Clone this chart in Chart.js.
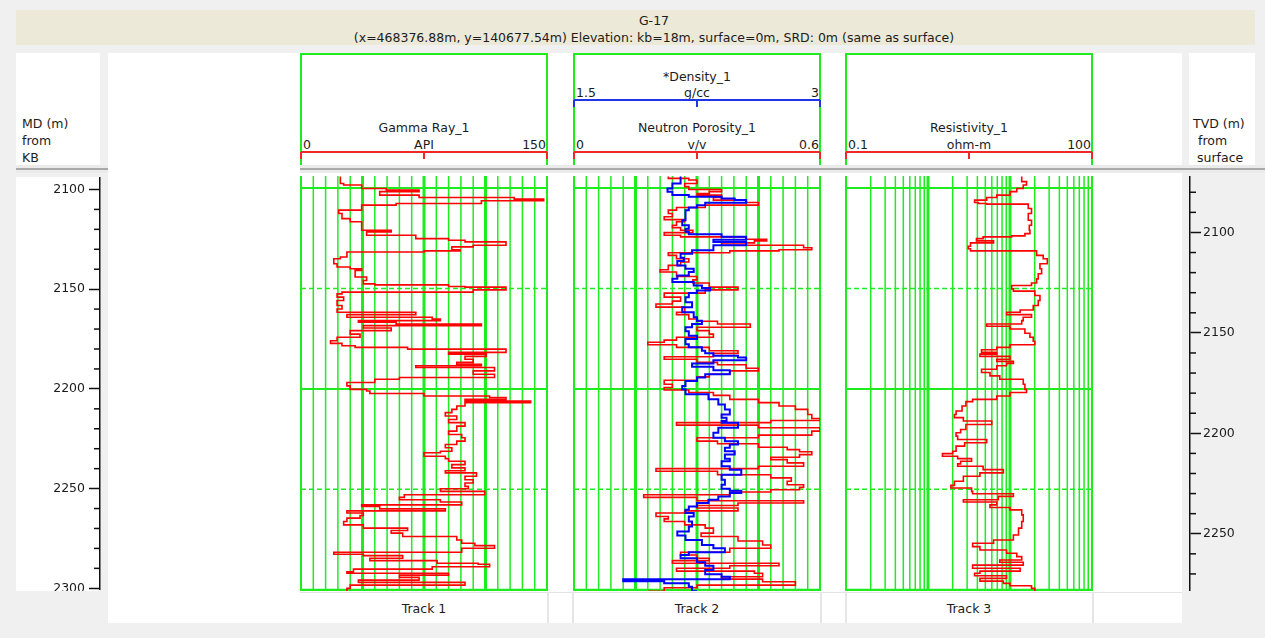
<!DOCTYPE html>
<html>
<head>
<meta charset="utf-8">
<title>G-17 well log</title>
<script src="https://cdn.jsdelivr.net/npm/chart.js@4.4.1/dist/chart.umd.min.js"></script>
<style>
  html, body { margin:0; padding:0; }
  body { width:1265px; height:638px; background:#f0f0f0; position:relative; overflow:hidden;
         font-family:"DejaVu Sans", sans-serif; font-size:12.5px; color:#1c1c1c; }
  .abs { position:absolute; }
  .txt { position:absolute; white-space:nowrap; line-height:17px; height:17px; }
  canvas { position:absolute; display:block; }
</style>
</head>
<body>
<script>
// ================= DATA =================
const wellName = 'G-17';
const wellInfo = '(x=468376.88m, y=140677.54m) Elevation: kb=18m, surface=0m, SRD: 0m (same as surface)';
const mdHeader = ['MD (m)', 'from', 'KB'];
const tvdHeader = ['TVD (m)', 'from', 'surface'];
const trackNames = ['Track 1', 'Track 2', 'Track 3'];

const curveNames = ['Gamma Ray_1', '*Density_1', 'Neutron Porosity_1', 'Resistivity_1'];
const curveUnits = ['API', 'g/cc', 'v/v', 'ohm-m'];
const curveMin   = [0, 1.5, 0, 0.1];
const curveMax   = [150, 3, 0.6, 100];
const curveTrack = [0, 1, 1, 2];
const curveRow   = [1, 0, 1, 1];

const mdRange = [2094, 2300.6];        // measured depth shown in the tracks
const tvdRange = [2071.9, 2278.5];     // true vertical depth for the same window
const depthTickStep = 10;
const depthLabelStep = 50;

const grDepth = [2094.3,2097.7,2098.5,2100.2,2101.0,2101.8,2103.5,2104.7,2105.5,2106.3,
 2107.7,2108.5,2111.0,2112.7,2115.2,2116.8,2119.3,2121.0,2121.8,2123.5,
 2125.2,2126.0,2126.8,2128.5,2129.3,2130.7,2131.3,2131.8,2134.3,2135.2,
 2137.7,2139.3,2140.2,2141.0,2144.3,2146.0,2147.7,2148.2,2149.0,2149.3,
 2150.7,2151.8,2152.7,2154.3,2156.0,2158.5,2160.2,2161.8,2163.0,2164.3,
 2165.2,2166.0,2166.8,2167.7,2168.5,2169.7,2171.0,2172.7,2174.3,2176.0,
 2177.3,2178.5,2179.3,2180.2,2181.8,2182.7,2183.8,2185.2,2186.8,2187.7,
 2188.5,2189.3,2191.0,2192.7,2194.3,2195.2,2196.8,2198.5,2200.2,
 2201.0,2202.3,2203.5,2204.3,2205.2,2206.0,2206.8,2208.5,2210.2,2211.8,
 2213.5,2215.2,2216.8,2218.5,2221.0,2222.7,2224.3,2226.0,2227.7,2229.3,
 2231.0,2231.8,2233.5,2234.7,2236.0,2237.7,2239.3,2240.7,2241.8,2243.5,
 2245.2,2246.8,2248.5,2249.7,2251.0,2252.7,2254.0,2255.2,2256.3,2257.7,
 2258.5,2259.7,2260.7,2261.8,2263.0,2264.3,2266.0,2267.7,2269.3,2270.5,
 2271.8,2273.5,2275.2,2276.8,2278.0,2279.3,2281.3,2282.3,2283.0,2284.3,
 2285.5,2286.8,2287.3,2288.5,2289.7,2291.0,2291.8,2292.7,2293.8,2295.2,
 2296.3,2297.7,2299.3,2301.0];
const grValue = [24,26,37,52,72,48,72,130,148,110,
 58,37,23,25,30,37,37,55,40,70,
 90,100,125,105,92,97,75,28,24,20,
 22,30,37,33,40,38,45,90,100,125,
 105,25,22,26,22,25,22,70,28,80,
 85,35,58,110,38,55,30,36,22,18,
 25,33,65,125,90,113,100,105,95,110,
 70,118,105,118,60,45,28,30,40,
 42,75,115,125,100,140,100,95,92,88,
 95,90,100,95,90,98,100,95,88,92,
 85,75,88,90,100,92,100,88,107,100,
 105,100,102,85,112,63,60,85,98,37,
 48,88,28,38,36,28,26,38,65,55,
 62,95,98,106,118,98,20,38,62,42,
 83,108,115,80,32,28,90,60,72,35,
 100,30,28,32];

const nphiDepth = [2094.3,2095.2,2096.0,2097.7,2099.3,2100.7,2101.8,2102.7,2103.5,2104.7,
 2106.0,2107.2,2108.5,2109.7,2111.0,2112.7,2114.3,2115.7,2116.8,2118.5,
 2119.7,2121.0,2122.2,2123.5,2124.3,2125.5,2126.3,2127.3,2128.5,2129.7,
 2130.7,2131.3,2132.2,2133.5,2135.2,2136.8,2138.5,2140.7,2141.8,2144.0,
 2145.7,2147.3,2149.3,2150.7,2152.3,2154.3,2156.3,2157.7,2159.3,2161.8,
 2163.0,2165.2,2166.3,2167.7,2169.3,2171.0,2172.7,2174.3,2175.7,2176.8,
 2178.0,2179.3,2181.0,2182.3,2184.0,2185.2,2186.8,2188.0,2189.7,2191.0,
 2192.7,2194.0,2195.7,2197.7,2199.3,2200.5,
 2201.8,2203.2,2205.2,2206.8,2208.5,2210.2,2212.7,2214.7,2215.7,2216.8,
 2218.0,2219.3,2221.0,2223.0,2224.3,2226.0,2227.3,2229.0,2230.2,2231.3,
 2232.7,2234.0,2235.2,2236.8,2238.5,2239.7,2241.0,2242.7,2244.3,2246.0,
 2247.7,2249.0,2250.2,2251.3,2252.7,2254.0,2255.7,2256.8,2258.0,2259.3,
 2260.7,2261.8,2263.5,2264.7,2266.0,2267.7,2269.3,2271.8,2273.5,2275.7,
 2277.7,2279.3,2281.3,2282.7,2284.3,2285.5,2286.8,2288.0,2289.3,2290.7,
 2291.8,2293.5,2294.7,2296.0,2297.7,2299.0,2300.7];
const nphiValue = [0.23,0.28,0.30,0.27,0.28,0.36,0.33,0.30,0.36,0.34,
 0.42,0.45,0.32,0.25,0.23,0.24,0.22,0.27,0.25,0.24,
 0.26,0.29,0.22,0.26,0.42,0.47,0.44,0.36,0.56,0.58,
 0.50,0.38,0.23,0.25,0.28,0.26,0.23,0.21,0.25,0.30,
 0.29,0.33,0.40,0.32,0.22,0.26,0.24,0.20,0.27,0.25,
 0.28,0.30,0.35,0.43,0.30,0.33,0.34,0.25,0.22,0.18,
 0.25,0.33,0.40,0.34,0.22,0.30,0.35,0.42,0.45,0.38,
 0.33,0.30,0.22,0.24,0.22,0.28,
 0.34,0.38,0.45,0.50,0.54,0.57,0.58,0.60,0.48,0.25,
 0.45,0.60,0.58,0.45,0.30,0.35,0.45,0.52,0.55,0.58,
 0.55,0.48,0.52,0.56,0.45,0.20,0.35,0.48,0.53,0.52,
 0.56,0.55,0.48,0.38,0.17,0.30,0.56,0.40,0.30,0.40,
 0.27,0.20,0.23,0.22,0.27,0.32,0.34,0.31,0.40,0.46,
 0.48,0.38,0.26,0.30,0.33,0.24,0.50,0.38,0.25,0.44,
 0.46,0.36,0.46,0.54,0.30,0.22,0.18];

const rhobDepth = [2094.3,2096.0,2097.7,2100.2,2101.8,2103.5,2104.3,2105.2,2106.0,2107.3,
 2108.5,2109.7,2111.0,2113.5,2116.0,2118.5,2120.2,2121.8,2123.0,2124.3,
 2125.7,2126.8,2128.5,2131.0,2132.7,2134.7,2136.3,2138.5,2140.2,2141.8,
 2143.5,2145.2,2146.8,2148.5,2149.7,2151.0,2152.3,2154.3,2156.8,2159.3,
 2161.8,2164.3,2166.0,2167.7,2169.3,2171.3,2173.5,2175.2,2177.7,2179.3,
 2181.0,2182.3,2183.5,2184.3,2185.7,2187.3,2189.0,2190.7,2192.7,2194.3,
 2196.0,2198.5,2200.2,
 2202.7,2205.2,2207.7,2210.2,2212.7,2214.3,2216.0,2216.8,2219.3,2221.8,
 2224.3,2226.0,2227.7,2229.3,2231.0,2232.7,2234.7,2236.0,2238.5,2240.2,
 2242.7,2245.2,2247.7,2249.7,2250.7,2251.8,2253.5,2255.2,2256.8,2258.5,
 2260.2,2261.8,2263.5,2266.0,2268.5,2271.0,2273.0,2275.2,2277.7,2279.3,
 2281.3,2282.7,2284.3,2286.3,2288.0,2290.2,2292.3,2293.5,2294.7,2295.7,
 2296.8,2298.5,2300.7];
const rhobValue = [2.15,2.15,2.10,2.07,2.10,2.20,2.40,2.48,2.55,2.30,
 2.25,2.20,2.18,2.18,2.16,2.20,2.18,2.20,2.40,2.55,
 2.35,2.55,2.35,2.22,2.15,2.17,2.13,2.18,2.23,2.20,
 2.13,2.10,2.23,2.28,2.33,2.25,2.20,2.18,2.22,2.16,
 2.23,2.25,2.28,2.22,2.18,2.20,2.25,2.18,2.20,2.28,
 2.30,2.35,2.50,2.55,2.35,2.22,2.35,2.45,2.30,2.25,
 2.18,2.16,2.18,
 2.32,2.38,2.42,2.45,2.40,2.43,2.40,2.50,2.38,2.35,
 2.42,2.50,2.45,2.42,2.48,2.42,2.45,2.40,2.45,2.52,
 2.40,2.42,2.40,2.45,2.52,2.45,2.38,2.32,2.25,2.20,
 2.18,2.23,2.20,2.22,2.20,2.13,2.18,2.28,2.35,2.42,
 2.20,2.15,2.25,2.30,2.35,2.30,2.40,2.45,1.80,2.05,
 2.20,2.22,2.25];

const resDepth = [2094.3,2096.8,2098.5,2100.2,2101.8,2103.5,2104.7,2106.0,2107.2,2107.7,
 2108.0,2110.2,2112.7,2116.0,2118.5,2121.0,2122.7,2123.8,2124.3,2125.2,
 2126.3,2127.3,2129.0,2130.2,2131.3,2133.5,2135.2,2137.7,2140.2,2142.7,
 2145.2,2147.3,2148.5,2150.2,2151.3,2153.5,2156.0,2158.5,2160.7,2161.8,
 2163.0,2164.3,2166.0,2167.7,2168.8,2170.2,2172.3,2174.3,2176.3,2178.0,
 2179.3,2180.5,2181.8,2182.7,2183.8,2185.2,2186.3,2187.3,2188.5,2190.2,
 2191.8,2193.5,2195.2,2197.7,2200.2,
 2201.8,2203.5,2205.2,2206.3,2208.5,2211.0,2212.7,2214.3,2216.0,2217.7,
 2220.2,2221.8,2223.5,2225.2,2226.8,2228.5,2231.0,2232.2,2233.5,2234.7,
 2236.0,2237.3,2238.5,2240.2,2241.8,2243.5,2246.0,2248.0,2249.3,2251.0,
 2252.2,2253.5,2255.2,2256.3,2257.7,2259.0,2260.2,2262.7,2266.0,2269.3,
 2272.7,2275.2,2276.8,2278.5,2280.2,2281.8,2283.5,2285.2,2286.3,2287.7,
 2289.3,2290.7,2291.8,2293.0,2294.3,2295.7,2296.8,2298.0,2299.3,2301.0];
const resValue = [13.9,15.9,14.5,12.1,10,6.9,5.2,3.7,4.1,5.2,
 16.7,18.3,16.7,18.3,17.2,17.5,15.2,10.5,4.7,3.9,
 6.3,3.3,3.1,3.3,21.1,25.4,28.5,23.2,24.3,22.1,
 21.1,18.3,10.5,11.0,20.1,23.2,22.1,19.2,13.3,9.1,
 18.3,14.5,13.9,5.2,10,15.2,17.5,19.2,20.1,10,
 6.9,4.5,6.9,4.3,10,6.9,11.0,9.1,6.9,4.5,
 5.7,7.5,14.5,15.2,15.9,
 10,6.9,3.5,2.9,2.6,2.2,2.1,2.7,6.0,2.9,
 2.5,2.2,2.3,5.2,2.8,2.2,2.0,1.5,2.3,3.4,
 2.5,2.3,4.7,8.3,4.3,2.7,2.1,1.9,3.4,3.5,
 11.0,7.2,2.7,6.9,5.7,10,13.9,14.5,13.9,12.7,
 11.0,6.3,3.5,4.3,9.1,12.1,13.9,7.5,14.5,3.5,
 13.3,4.3,3.7,9.1,4.3,8.3,10,18.3,20.1,22.1];

// ================= LAYOUT / STYLE =================
const GREEN = '#1fec1f';
const RED = '#ff0000';
const BLUE = '#0000ff';
const HEADER_RED = '#f02828';
const HEADER_BLUE = '#2035e8';
const FONT = '"DejaVu Sans", sans-serif';
const TRACK_LEFT = [301, 574, 846];
const TRACK_W = 246;
const BODY_TOP = 176, BODY_H = 415;
const ROW_NAME_Y = [76, 127], ROW_SCALE_Y = [92, 144], ROW_BAR_Y = [100, 152];
const curveHeaderColor = [HEADER_RED, HEADER_BLUE, HEADER_RED, HEADER_RED];

const px = v => v + 'px';
function addDiv(styles, txt, cls, parent) {
  const d = document.createElement('div');
  d.className = cls || 'abs';
  Object.assign(d.style, styles);
  if (txt !== undefined) d.textContent = txt;
  (parent || document.body).appendChild(d);
  return d;
}
function box(l, t, w, h, bg) {
  return addDiv({ left: px(l), top: px(t), width: px(w), height: px(h), background: bg });
}
function label(str, x, cy, align, w) {
  const W = w || 300;
  const left = align === 'center' ? x - W / 2 : (align === 'right' ? x - W : x);
  return addDiv({ left: px(left), top: px(cy - 8.5), width: px(W), textAlign: align }, str, 'txt');
}
function addCanvas(l, t, w, h, parent) {
  const c = document.createElement('canvas');
  c.width = w; c.height = h;
  Object.assign(c.style, { left: px(l), top: px(t), width: px(w), height: px(h) });
  (parent || document.body).appendChild(c);
  return c;
}

// ---- static frame ----
box(16, 10, 1239, 35, '#ece9d8');
label(wellName, 654, 20.5, 'center', 900);
label(wellInfo, 654, 37.5, 'center', 900);

box(16, 53, 84, 112, '#ffffff');
mdHeader.forEach((s, i) => label(s, 22, 123 + i * 17, 'left', 80));
box(16, 177, 84, 414, '#ffffff');
box(16, 165, 92, 8, '#ebebeb');
box(16, 168, 92, 2, '#a9a9a9');

box(108, 53, 192, 570, '#ffffff');
box(300, 53, 882, 112, '#ffffff');
box(300, 173, 882, 450, '#ffffff');
box(300, 165, 965, 8, '#ebebeb');
box(300, 168, 965, 2, '#a9a9a9');

box(1189, 53, 66, 112, '#ffffff');
label(tvdHeader[0], 1193, 123, 'left', 70);
label(tvdHeader[1], 1198, 140, 'left', 70);
label(tvdHeader[2], 1197, 157, 'left', 70);

// footer
box(300, 592, 882, 1, '#e3e3e3');
[547, 572, 820, 845, 1092].forEach(x => box(x, 592, 2, 31, '#e6e6e6'));
trackNames.forEach((n, i) => label(n, TRACK_LEFT[i] + TRACK_W / 2, 608, 'center', 200));

// track header frames
TRACK_LEFT.forEach(L => addDiv({
  left: px(L - 1), top: px(53), width: px(TRACK_W + 2), height: px(112), boxSizing: 'border-box',
  borderTop: '2px solid ' + GREEN, borderLeft: '2px solid ' + GREEN, borderRight: '2px solid ' + GREEN
}));

// curve header scales
curveNames.forEach((name, i) => {
  const L = TRACK_LEFT[curveTrack[i]], r = curveRow[i], col = curveHeaderColor[i];
  label(name, L + TRACK_W / 2, ROW_NAME_Y[r], 'center', 240);
  label(String(curveMin[i]), L + 2, ROW_SCALE_Y[r], 'left', 100);
  label(curveUnits[i], L + TRACK_W / 2, ROW_SCALE_Y[r], 'center', 100);
  label(String(curveMax[i]), L + TRACK_W - 1, ROW_SCALE_Y[r], 'right', 100);
  box(L, ROW_BAR_Y[r] - 1, TRACK_W, 2, col);
  [0, TRACK_W / 2, TRACK_W].forEach(o => box(L + o - 1, ROW_BAR_Y[r], 2, 7, col));
});

// ================= CHART.JS =================
const trackGridPlugin = {
  id: 'trackGrid',
  beforeDatasetsDraw(chart, args, opts) {
    const { ctx, chartArea: a } = chart;
    const xs = chart.scales.x, ys = chart.scales.y;
    ctx.save();
    ctx.strokeStyle = GREEN;
    opts.lines.forEach(g => {
      const x = xs.getPixelForValue(g.v);
      ctx.lineWidth = g.w;
      ctx.beginPath(); ctx.moveTo(x, a.top); ctx.lineTo(x, a.bottom); ctx.stroke();
    });
    const first = Math.ceil(ys.min / depthLabelStep) * depthLabelStep;
    for (let d = first; d <= ys.max; d += depthLabelStep) {
      const y = ys.getPixelForValue(d);
      const dashed = d % (2 * depthLabelStep) !== 0;
      ctx.lineWidth = dashed ? 1.5 : 2;
      ctx.setLineDash(dashed ? [5, 3] : []);
      ctx.beginPath(); ctx.moveTo(a.left, y); ctx.lineTo(a.right, y); ctx.stroke();
    }
    ctx.setLineDash([]);
    ctx.lineWidth = 2;
    ctx.beginPath();
    ctx.moveTo(a.left, a.top); ctx.lineTo(a.left, a.bottom);
    ctx.moveTo(a.right, a.top); ctx.lineTo(a.right, a.bottom);
    ctx.moveTo(a.left, a.bottom - 1); ctx.lineTo(a.right, a.bottom - 1);
    ctx.stroke();
    ctx.restore();
  }
};

const minorTickPlugin = {
  id: 'minorTicks',
  afterDraw(chart, args, opts) {
    const s = chart.scales.y, ctx = chart.ctx;
    const x0 = opts.side === 'left' ? s.right : s.left;
    const dir = opts.side === 'left' ? -1 : 1;
    ctx.save();
    ctx.strokeStyle = '#111'; ctx.lineWidth = 1.5;
    s.ticks.forEach(t => {
      if (Math.round(t.value) % depthLabelStep === 0) return;
      const y = s.getPixelForValue(t.value);
      ctx.beginPath(); ctx.moveTo(x0, y); ctx.lineTo(x0 + dir * 6, y); ctx.stroke();
    });
    ctx.restore();
  }
};

function points(depths, values) {
  return depths.map((d, i) => ({ x: values[i], y: d }));
}
function curve(depths, values, color, width, xAxisID) {
  return { data: points(depths, values), borderColor: color, borderWidth: width, stepped: 'after',
           pointRadius: 0, fill: false, xAxisID: xAxisID, yAxisID: 'y' };
}
function linearGrid(min, max) {
  const out = [];
  for (let i = 1; i < 20; i++) out.push({ v: min + (max - min) * i / 20, w: i % 5 === 0 ? 3 : 1.5 });
  return out;
}
function logGrid(min, max) {
  const out = [];
  for (let dec = min; dec < max; dec *= 10) {
    for (let m = 1; m <= 9; m++) {
      const v = dec * m;
      if (m === 1 && dec === min) continue;
      out.push({ v: v, w: m === 1 ? 3 : 1.5 });
    }
  }
  return out;
}

function makeTrack(idx, xScales, datasets, gridLines) {
  const c = addCanvas(TRACK_LEFT[idx] - 2, BODY_TOP, TRACK_W + 4, BODY_H);
  return new Chart(c, {
    type: 'line',
    data: { datasets: datasets },
    options: {
      responsive: false, animation: false, events: [], indexAxis: 'y',
      layout: { padding: { left: 2, right: 2, top: 0, bottom: 0 } },
      scales: Object.assign({
        y: { type: 'linear', min: mdRange[0], max: mdRange[1], reverse: true, display: false }
      }, xScales),
      elements: { point: { radius: 0 }, line: { tension: 0, borderJoinStyle: 'miter' } },
      plugins: { legend: { display: false }, tooltip: { enabled: false }, trackGrid: { lines: gridLines } }
    },
    plugins: [trackGridPlugin]
  });
}

makeTrack(0,
  { x: { type: 'linear', min: curveMin[0], max: curveMax[0], display: false } },
  [curve(grDepth, grValue, RED, 1.6, 'x')],
  linearGrid(curveMin[0], curveMax[0]));

makeTrack(1,
  { x: { type: 'linear', min: curveMin[2], max: curveMax[2], display: false },
    x2: { type: 'linear', axis: 'x', min: curveMin[1], max: curveMax[1], display: false } },
  [curve(rhobDepth, rhobValue, BLUE, 2, 'x2'), curve(nphiDepth, nphiValue, RED, 1.6, 'x')],
  linearGrid(curveMin[2], curveMax[2]));

makeTrack(2,
  { x: { type: 'logarithmic', min: curveMin[3], max: curveMax[3], display: false } },
  [curve(resDepth, resValue, RED, 1.6, 'x')],
  logGrid(curveMin[3], curveMax[3]));

function makeDepthAxis(left, width, range, side, axisWidth, labelPad) {
  const holder = addDiv({ left: px(left), top: px(BODY_TOP), width: px(width), height: px(BODY_H), overflow: 'hidden' });
  const c = addCanvas(0, -10, width, BODY_H + 20, holder);
  return new Chart(c, {
    type: 'line',
    data: { datasets: [] },
    options: {
      responsive: false, animation: false, events: [],
      layout: { padding: { top: 10, bottom: 10, left: 0, right: 0 } },
      scales: {
        x: { type: 'linear', display: false, min: 0, max: 1 },
        y: {
          type: 'linear', position: side, reverse: true, min: range[0], max: range[1],
          afterFit: s => { s.width = axisWidth; },
          border: { display: true, color: '#111', width: 1.5 },
          grid: { display: true, drawOnChartArea: false, drawTicks: true, tickLength: 11, tickWidth: 1.5,
                  tickColor: ctx => (ctx.tick && Math.round(ctx.tick.value) % depthLabelStep === 0) ? '#111' : 'rgba(0,0,0,0)' },
          ticks: { stepSize: depthTickStep, includeBounds: false, autoSkip: false, padding: labelPad,
                   color: '#1c1c1c', font: { family: FONT, size: 12.5 },
                   callback: v => Math.round(v) % depthLabelStep === 0 ? String(Math.round(v)) : '' }
        }
      },
      plugins: { legend: { display: false }, tooltip: { enabled: false }, minorTicks: { side: side } }
    },
    plugins: [minorTickPlugin]
  });
}

makeDepthAxis(16, 92, mdRange, 'left', 84, 4);
makeDepthAxis(1185, 80, tvdRange, 'right', 75, 2);
</script>
</body>
</html>
